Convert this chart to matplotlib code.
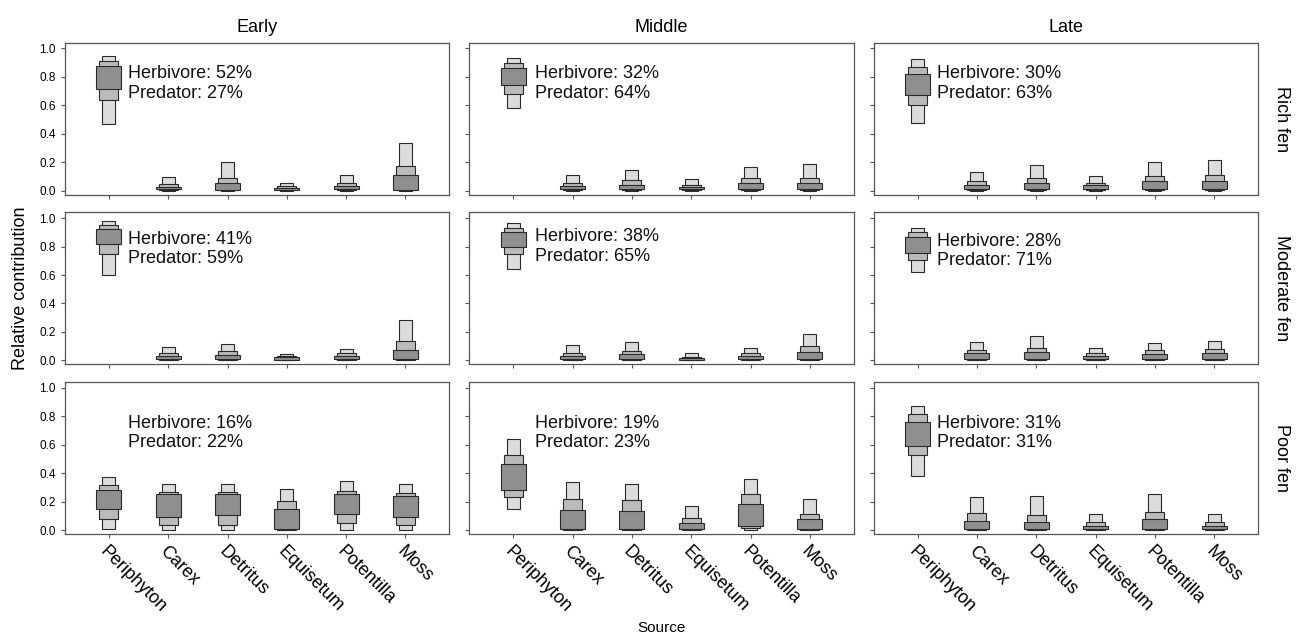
import matplotlib
matplotlib.use("Agg")
import matplotlib.pyplot as plt

plt.rcParams['font.family'] = ['Liberation Sans', 'DejaVu Sans']

sources = ["Periphyton", "Carex", "Detritus", "Equisetum", "Potentilla", "Moss"]
stages = ["Early", "Middle", "Late"]
habitats = ["Rich fen", "Moderate fen", "Poor fen"]

# per source: (lo95, lo75, lo50, hi50, hi75, hi95)
rich_early = [(0.466, 0.635, 0.718, 0.875, 0.913, 0.946),
              (0.0, 0.003, 0.008, 0.028, 0.047, 0.096),
              (0.0, 0.002, 0.006, 0.054, 0.089, 0.200),
              (0.0, 0.002, 0.005, 0.020, 0.030, 0.054),
              (0.0, 0.003, 0.008, 0.035, 0.054, 0.110),
              (0.0, 0.002, 0.005, 0.108, 0.170, 0.336)]
moderate_early = [(0.600, 0.746, 0.816, 0.925, 0.953, 0.981),
                  (0.0, 0.003, 0.008, 0.033, 0.050, 0.094),
                  (0.0, 0.003, 0.008, 0.040, 0.066, 0.113),
                  (0.0, 0.002, 0.005, 0.020, 0.028, 0.047),
                  (0.0, 0.003, 0.008, 0.033, 0.050, 0.080),
                  (0.0, 0.002, 0.006, 0.070, 0.134, 0.282)]
poor_early = [(0.007, 0.078, 0.148, 0.282, 0.315, 0.372),
              (0.0, 0.033, 0.094, 0.252, 0.266, 0.325),
              (0.0, 0.038, 0.104, 0.252, 0.266, 0.322),
              (0.0, 0.002, 0.005, 0.146, 0.202, 0.289),
              (0.0, 0.047, 0.110, 0.254, 0.278, 0.346),
              (0.0, 0.033, 0.094, 0.240, 0.259, 0.322)]
rich_middle = [(0.584, 0.682, 0.741, 0.864, 0.899, 0.934),
               (0.0, 0.003, 0.008, 0.033, 0.052, 0.108),
               (0.0, 0.003, 0.008, 0.042, 0.075, 0.146),
               (0.0, 0.003, 0.008, 0.028, 0.040, 0.082),
               (0.0, 0.003, 0.008, 0.050, 0.087, 0.165),
               (0.0, 0.003, 0.008, 0.050, 0.087, 0.186)]
moderate_middle = [(0.645, 0.746, 0.795, 0.901, 0.934, 0.967),
                   (0.0, 0.003, 0.008, 0.033, 0.054, 0.108),
                   (0.0, 0.003, 0.008, 0.042, 0.068, 0.129),
                   (0.0, 0.002, 0.005, 0.016, 0.026, 0.052),
                   (0.0, 0.003, 0.008, 0.031, 0.050, 0.089),
                   (0.0, 0.003, 0.008, 0.056, 0.101, 0.188)]
poor_middle = [(0.148, 0.235, 0.282, 0.464, 0.529, 0.642),
               (0.0, 0.002, 0.006, 0.141, 0.216, 0.336),
               (0.0, 0.002, 0.006, 0.136, 0.212, 0.325),
               (0.0, 0.002, 0.006, 0.050, 0.085, 0.169),
               (0.0, 0.012, 0.031, 0.181, 0.252, 0.358),
               (0.0, 0.003, 0.008, 0.075, 0.115, 0.219)]
rich_late = [(0.475, 0.600, 0.671, 0.821, 0.868, 0.929),
             (0.0, 0.003, 0.008, 0.042, 0.068, 0.134),
             (0.0, 0.003, 0.008, 0.050, 0.085, 0.181),
             (0.0, 0.003, 0.008, 0.038, 0.056, 0.104),
             (0.0, 0.003, 0.008, 0.068, 0.106, 0.200),
             (0.0, 0.003, 0.008, 0.064, 0.110, 0.212)]
moderate_late = [(0.624, 0.706, 0.753, 0.868, 0.901, 0.934),
                 (0.0, 0.003, 0.008, 0.050, 0.070, 0.127),
                 (0.0, 0.003, 0.008, 0.056, 0.089, 0.172),
                 (0.0, 0.003, 0.008, 0.033, 0.052, 0.089),
                 (0.0, 0.003, 0.008, 0.047, 0.070, 0.122),
                 (0.0, 0.003, 0.008, 0.050, 0.080, 0.139)]
poor_late = [(0.381, 0.529, 0.593, 0.762, 0.816, 0.871),
             (0.0, 0.003, 0.008, 0.064, 0.118, 0.235),
             (0.0, 0.003, 0.008, 0.059, 0.104, 0.242),
             (0.0, 0.003, 0.008, 0.031, 0.054, 0.113),
             (0.0, 0.003, 0.008, 0.075, 0.129, 0.256),
             (0.0, 0.003, 0.008, 0.031, 0.054, 0.115)]

herbivore_pct = [[52, 32, 30], [41, 38, 28], [16, 19, 31]]
predator_pct = [[27, 64, 63], [59, 65, 71], [22, 23, 31]]
text_y = [[0.754, 0.754, 0.754], [0.783, 0.80, 0.77], [0.683, 0.683, 0.683]]

panels = [[rich_early, rich_middle, rich_late],
          [moderate_early, moderate_middle, moderate_late],
          [poor_early, poor_middle, poor_late]]

c95, c75, c50 = "#dcdcdc", "#bababa", "#8f8f8f"
w95, w75, w50 = 0.22, 0.32, 0.42
edge = "#2a2a2a"

fig, axes = plt.subplots(3, 3, figsize=(12.97, 6.38), dpi=100)
fig.subplots_adjust(left=0.0501, right=0.970, top=0.933, bottom=0.163,
                    hspace=0.118, wspace=0.052)

xpos = list(range(1, len(sources) + 1))
for r in range(3):
    for c in range(3):
        ax = axes[r][c]
        data = panels[r][c]
        lo95 = [d[0] for d in data]; hi95 = [d[5] for d in data]
        lo75 = [d[1] for d in data]; hi75 = [d[4] for d in data]
        lo50 = [d[2] for d in data]; hi50 = [d[3] for d in data]
        ax.bar(xpos, [h - l for l, h in zip(lo95, hi95)], bottom=lo95, width=w95,
               color=c95, edgecolor=edge, linewidth=0.8, zorder=2)
        ax.bar(xpos, [h - l for l, h in zip(lo75, hi75)], bottom=lo75, width=w75,
               color=c75, edgecolor=edge, linewidth=0.8, zorder=3)
        ax.bar(xpos, [h - l for l, h in zip(lo50, hi50)], bottom=lo50, width=w50,
               color=c50, edgecolor=edge, linewidth=0.8, zorder=4)
        ax.set_xlim(0.26, 6.74)
        ax.set_ylim(-0.028, 1.04)
        ax.set_yticks([0.0, 0.2, 0.4, 0.6, 0.8, 1.0])
        ax.set_xticks(xpos)
        ax.tick_params(axis='both', direction='out', length=3, width=0.8,
                       color="#555555", labelsize=8.5, top=False, right=False)
        if c == 0:
            ax.set_yticklabels(["0.0", "0.2", "0.4", "0.6", "0.8", "1.0"])
        else:
            ax.set_yticklabels([])
        if r == 2:
            ax.set_xticklabels(sources, rotation=-45, ha='left', va='top',
                               rotation_mode='anchor', fontsize=13)
        else:
            ax.set_xticklabels([])
        for s in ax.spines.values():
            s.set_color("#555555")
            s.set_linewidth(0.9)
        xt = 1.32 if c == 0 else (1.37 if c == 1 else 1.33)
        ax.text(xt, text_y[r][c],
                "Herbivore: %d%%\nPredator: %d%%" % (herbivore_pct[r][c], predator_pct[r][c]),
                ha='left', va='center', fontsize=13, color="#111111", zorder=6)
        if r == 0:
            ax.set_title(stages[c], fontsize=13, pad=8)
        if c == 2:
            ax.text(1.062, 0.5, habitats[r], transform=ax.transAxes, rotation=-90,
                    ha='center', va='center', fontsize=13)

fig.text(0.016, 0.548, "Relative contribution", rotation=90, ha='center',
         va='center', fontsize=13)
fig.text(0.51, 0.015, "Source", ha='center', va='center', fontsize=11)

fig.savefig("out.png", dpi=100)
